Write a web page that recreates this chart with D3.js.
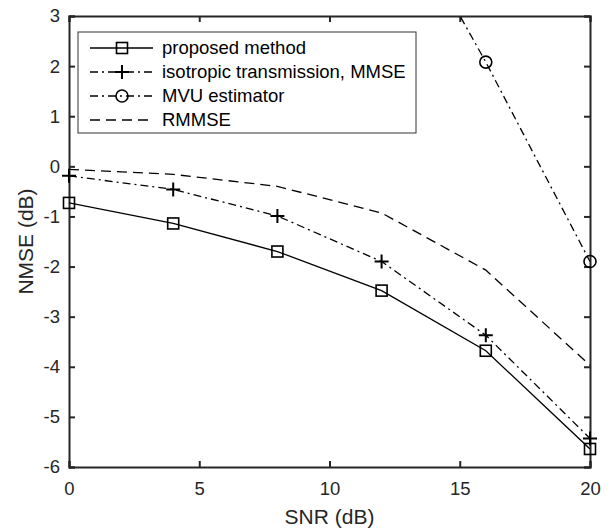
<!DOCTYPE html>
<html><head><meta charset="utf-8">
<script src="https://cdn.jsdelivr.net/npm/d3@7"></script>
<style>body{margin:0;background:#fff}svg{display:block;font-family:"Liberation Sans",Arial,sans-serif}</style>
</head><body><svg id="c" width="613" height="531"></svg>
<script>
const snr = [0, 4, 8, 12, 16, 20];
const proposed = [-0.73, -1.14, -1.70, -2.48, -3.68, -5.64];
const isotropic = [-0.19, -0.46, -0.99, -1.90, -3.37, -5.43];
const mvuSnr = [12, 16, 20];
const mvu = [5.8, 2.08, -1.90];
const rmmse = [-0.06, -0.16, -0.40, -0.93, -2.07, -3.97];
const xTicks = [0, 5, 10, 15, 20];
const yTicks = [-6, -5, -4, -3, -2, -1, 0, 1, 2, 3];
const legendLabels = ["proposed method", "isotropic transmission, MMSE", "MVU estimator", "RMMSE"];

const svg = d3.select("#c");
const L = 69, R = 590, T = 16, B = 467;
const x = d3.scaleLinear().domain([0, 20]).range([L, R]);
const y = d3.scaleLinear().domain([-6, 3]).range([B, T]);
const axisCol = "#262626";
const FONT = '"Liberation Sans",Arial,sans-serif';

svg.append("defs").append("clipPath").attr("id", "clip")
  .append("rect").attr("x", L).attr("y", T).attr("width", R - L).attr("height", B - T);

const fmt = d => String(d);
const gx = svg.append("g").attr("transform", `translate(0,${B})`)
  .call(d3.axisBottom(x).tickValues(xTicks).tickSize(-6).tickPadding(15).tickFormat(fmt));
const gxTop = svg.append("g").attr("transform", `translate(0,${T})`)
  .call(d3.axisTop(x).tickValues(xTicks).tickSize(-6).tickFormat(""));
const gy = svg.append("g").attr("transform", `translate(${L},0)`)
  .call(d3.axisLeft(y).tickValues(yTicks).tickSize(-6).tickPadding(9).tickFormat(fmt));
const gyR = svg.append("g").attr("transform", `translate(${R},0)`)
  .call(d3.axisRight(y).tickValues(yTicks).tickSize(-6).tickFormat(""));
[gx, gxTop, gy, gyR].forEach(g => {
  g.attr("font-size", 18.5).attr("font-family", FONT);
  g.select(".domain").attr("stroke", axisCol).attr("stroke-width", 2);
  g.selectAll(".tick line").attr("stroke", axisCol).attr("stroke-width", 2);
  g.selectAll(".tick text").attr("fill", axisCol);
});

svg.append("text").attr("x", (L + R) / 2).attr("y", 524).attr("text-anchor", "middle")
  .attr("font-size", 21).attr("fill", axisCol).text("SNR (dB)");
svg.append("text").attr("transform", `translate(33,${(T + B) / 2}) rotate(-90)`)
  .attr("text-anchor", "middle").attr("font-size", 21).attr("fill", axisCol).text("NMSE (dB)");

const series = [
  {xs: snr, ys: proposed, dash: null, marker: "square"},
  {xs: snr, ys: isotropic, dash: "8,4,2,4", marker: "plus"},
  {xs: mvuSnr, ys: mvu, dash: "8,4,2,4", marker: "circle"},
  {xs: snr, ys: rmmse, dash: "10,6", marker: null}
];

function drawMarker(g, type, cx, cy) {
  if (type === "square") {
    g.append("rect").attr("x", cx - 5.5).attr("y", cy - 5.5).attr("width", 11).attr("height", 11)
      .attr("fill", "none").attr("stroke", "#000").attr("stroke-width", 1.6);
  } else if (type === "plus") {
    g.append("path").attr("d", `M${cx - 7},${cy}H${cx + 7}M${cx},${cy - 7}V${cy + 7}`)
      .attr("stroke", "#000").attr("stroke-width", 2).attr("fill", "none");
  } else if (type === "circle") {
    g.append("circle").attr("cx", cx).attr("cy", cy).attr("r", 6)
      .attr("fill", "none").attr("stroke", "#000").attr("stroke-width", 1.6);
  }
}

const plot = svg.append("g").attr("clip-path", "url(#clip)");
const plotM = svg.append("g");
series.forEach(s => {
  const pts = s.xs.map((v, i) => [v, s.ys[i]]);
  plot.append("path").datum(pts)
    .attr("d", d3.line().x(d => x(d[0])).y(d => y(d[1])))
    .attr("fill", "none").attr("stroke", "#000").attr("stroke-width", 1.3)
    .attr("stroke-dasharray", s.dash);
  if (s.marker) pts.forEach(p => {
    if (p[1] <= 3 && p[1] >= -6) drawMarker(plotM, s.marker, x(p[0]), y(p[1]));
  });
});

const lg = svg.append("g");
lg.append("rect").attr("x", 78).attr("y", 32).attr("width", 338).attr("height", 101)
  .attr("fill", "#fff").attr("stroke", "#333").attr("stroke-width", 1);
legendLabels.forEach((lab, i) => {
  const ly = 48 + i * 24;
  const s = series[i];
  lg.append("line").attr("x1", 90).attr("x2", 153).attr("y1", ly).attr("y2", ly)
    .attr("stroke", "#000").attr("stroke-width", 1.3).attr("stroke-dasharray", s.dash);
  if (s.marker) drawMarker(lg, s.marker, 122, ly);
  lg.append("text").attr("x", 162).attr("y", ly).attr("dy", "0.35em")
    .attr("font-size", 18.5).attr("fill", "#000").text(lab);
});
</script></body></html>
